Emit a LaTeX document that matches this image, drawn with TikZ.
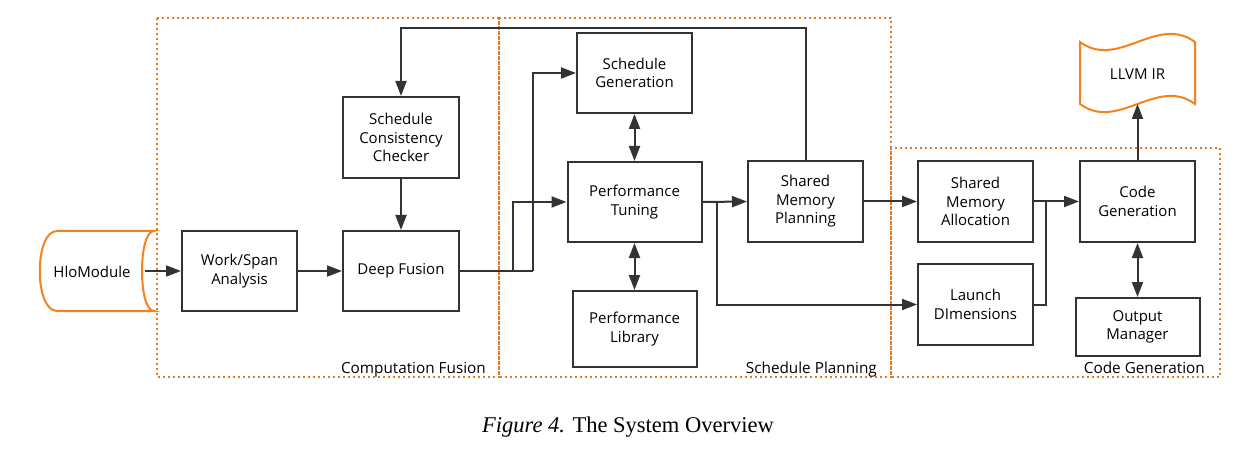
\documentclass[tikz,border=0pt]{standalone}
\usepackage{fontspec}
\setmainfont{Open Sans}
\newfontfamily\capfont{Liberation Serif}
\usetikzlibrary{arrows.meta}
\definecolor{dk}{HTML}{333333}
\definecolor{org}{HTML}{F5821F}
\definecolor{dotorg}{HTML}{E07A1F}
\tikzset{
  blk/.style={draw=dk, line width=2pt, inner sep=0pt, align=center, font=\fontsize{15}{18.5}\selectfont, text=black},
  arr/.style={draw=dk, line width=2pt, -{Triangle[length=15pt,width=11pt]}},
  darr/.style={draw=dk, line width=2pt, {Triangle[length=15pt,width=11pt]}-{Triangle[length=15pt,width=11pt]}},
  ln/.style={draw=dk, line width=2pt},
  grp/.style={draw=dotorg, line width=2.2pt, dash pattern=on 2pt off 3pt},
  glab/.style={font=\fontsize{15.3}{16}\selectfont, anchor=base east, inner sep=0pt},
  shp/.style={draw=org, line width=2pt},
}
\begin{document}
\begin{tikzpicture}[x=1pt,y=-1pt]
\useasboundingbox (0,0) rectangle (1253,457);
% groups
\draw[grp] (157,18) rectangle (499,377);
\draw[grp] (499,18) rectangle (891,377);
\draw[grp] (891,148) rectangle (1220,377);
\node[glab] (gl1) at (486,373) {Computation Fusion};
\node[glab] (gl2) at (877,373) {Schedule Planning};
\node[glab] (gl3) at (1205,373) {Code Generation};
% HloModule shape
\draw[shp, fill=white] (57,231) -- (154,231) .. controls (138,231) and (138,311) .. (154,311) -- (57,311) .. controls (34,311) and (34,231) .. (57,231) -- cycle;
\node[font=\fontsize{15}{18}\selectfont, inner sep=0pt] (hlo) at (92,272) {HloModule};
\coordinate (hloout) at (145,271);
% LLVM IR shape
\draw[shp, fill=white] (1080,42) .. controls (1118,70) and (1157,14) .. (1195,42) -- (1195,104) .. controls (1157,76) and (1118,132) .. (1080,104) -- cycle;
\node[font=\fontsize{15}{18}\selectfont, inner sep=0pt] (llvm) at (1137.5,74) {LLVM IR};
\coordinate (llvmb) at (1137.5,104);
% blocks
\node[blk, minimum width=115pt, minimum height=80pt] (ws) at (239.5,271) {Work/Span\\Analysis};
\node[blk, minimum width=116pt, minimum height=80pt] (df) at (401,271) {Deep Fusion};
\node[blk, minimum width=116pt, minimum height=81pt] (scc) at (401,137.5) {Schedule\\Consistency\\Checker};
\node[blk, minimum width=115pt, minimum height=80pt] (sg) at (634.5,73) {Schedule\\Generation};
\node[blk, minimum width=134pt, minimum height=80pt] (pt) at (634.5,202) {Performance\\Tuning};
\node[blk, minimum width=124pt, minimum height=76pt] (pl) at (634.5,329) {Performance\\Library};
\node[blk, minimum width=115pt, minimum height=81pt] (smp) at (805.5,201.5) {Shared\\Memory\\Planning};
\node[blk, minimum width=115pt, minimum height=81pt] (sma) at (975.5,201.5) {Shared\\Memory\\Allocation};
\node[blk, minimum width=115pt, minimum height=81pt] (ld) at (975.5,304.5) {Launch\\DImensions};
\node[blk, minimum width=115pt, minimum height=81pt] (cg) at (1137.5,201.5) {Code\\Generation};
\node[blk, minimum width=124pt, minimum height=58pt] (om) at (1137.5,327) {Output\\Manager};
% connectors
\coordinate (j1) at (513,271);
\coordinate (j2) at (533,271);
\coordinate (j3) at (717,202);
\coordinate (j4) at (1046,201.5);
\coordinate (top) at (805.5,28);
\draw[arr] (hloout) -- (ws.west);
\draw[arr] (ws.east) -- (df.west);
\draw[arr] (scc.south) -- (df.north);
\draw[ln] (df.east) -- (j2);
\draw[arr] (j2) |- (sg.west);
\draw[arr] (j1) |- (pt.west);
\draw[darr] (sg.south) -- (pt.north);
\draw[darr] (pt.south) -- (pl.north);
\draw[arr] (pt.east) -- (smp.west);
\draw[arr] (j3) |- (ld.west);
\draw[arr] (smp.north) -- (top) -| (scc.north);
\draw[arr] (smp.east) -- (sma.west);
\draw[arr] (sma.east) -- (cg.west);
\draw[ln] (ld.east) -| (j4);
\draw[arr] (cg.north) -- (llvmb);
\draw[darr] (cg.south) -- (om.north);
% caption
\node[font=\capfont\fontsize{22.5}{26}\selectfont, inner sep=0pt, anchor=base] (cap) at (628,432) {\textit{Figure 4.} The System Overview};
\end{tikzpicture}
\end{document}
